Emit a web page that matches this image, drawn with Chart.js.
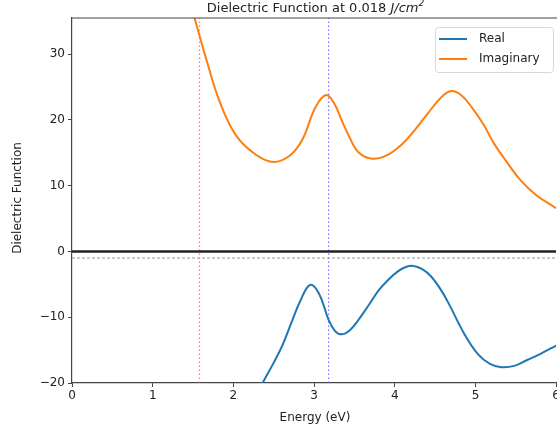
<!DOCTYPE html>
<html>
<head>
<meta charset="utf-8">
<script src="https://cdn.jsdelivr.net/npm/chart.js@4/dist/chart.umd.min.js"></script>
<style>
  html, body { margin: 0; padding: 0; background: #fff; overflow: hidden; }
  #wrap { width: 562px; height: 434px; }
</style>
</head>
<body>
<div id="wrap"><canvas id="chart" width="562" height="434"></canvas></div>
<script>
// values
const realEnergy = [2.25, 2.37, 2.5, 2.61, 2.72, 2.83, 2.95, 3.06, 3.18, 3.26, 3.34, 3.44, 3.55, 3.68, 3.8, 3.92, 4.03, 4.13, 4.23, 4.34, 4.45, 4.57, 4.68, 4.86, 5.03, 5.18, 5.32, 5.48, 5.64, 5.8, 6.0];
const realValues = [-22.5, -19.8, -16.9, -14.2, -10.8, -7.5, -5.1, -6.4, -10.4, -12.1, -12.6, -12.0, -10.4, -8.1, -5.9, -4.3, -3.1, -2.4, -2.2, -2.7, -3.8, -5.8, -8.2, -12.5, -15.6, -17.1, -17.6, -17.4, -16.5, -15.6, -14.3];

const imagEnergy = [1.45, 1.53, 1.66, 1.83, 2.03, 2.28, 2.5, 2.7, 2.85, 3.02, 3.15, 3.25, 3.34, 3.43, 3.55, 3.72, 3.9, 4.08, 4.25, 4.41, 4.58, 4.7, 4.82, 4.95, 5.1, 5.23, 5.4, 5.56, 5.75, 5.97, 6.0];
const imagValues = [38.5, 35.0, 29.4, 22.8, 17.7, 14.7, 13.6, 14.6, 16.9, 22.0, 23.8, 22.5, 20.0, 17.6, 15.1, 14.1, 14.6, 16.2, 18.5, 21.0, 23.5, 24.4, 23.8, 22.0, 19.3, 16.4, 13.4, 10.8, 8.6, 6.8, 6.6];

const redLineE = 1.58;   // red dotted marker
const blueLineE = 3.18;  // blue dotted marker
const zeroLevel = 0;
const dashedLevel = -1;

const xTicks = [0, 1, 2, 3, 4, 5, 6];
const yTicks = [-20, -10, 0, 10, 20, 30];
const xRange = [0, 6];
const yRange = [-20, 35.5];

const FONT = "'DejaVu Sans', sans-serif";

function pts(xs, ys) {
  return xs.map((x, i) => ({ x: x, y: ys[i] }));
}

// title with the italic units, axis labels, top spine and boxed legend
const decorations = {
  id: "decorations",
  afterDraw(chart) {
    const ctx = chart.ctx;
    const a = chart.chartArea;
    ctx.save();

    // top spine
    ctx.strokeStyle = "#444";
    ctx.lineWidth = 1.2;
    ctx.beginPath();
    ctx.moveTo(a.left, a.top);
    ctx.lineTo(a.right + 5, a.top);
    ctx.stroke();

    // title
    ctx.fillStyle = "#222";
    ctx.textBaseline = "alphabetic";
    const part1 = "Dielectric Function at 0.018 ";
    ctx.font = "13px " + FONT;
    const w1 = ctx.measureText(part1).width;
    ctx.font = "italic 13px " + FONT;
    const w2 = ctx.measureText("J/cm").width;
    ctx.font = "italic 9px " + FONT;
    const w3 = ctx.measureText("2").width;
    let tx = (a.left + 559) / 2 - (w1 + w2 + w3) / 2;
    ctx.font = "13px " + FONT;
    ctx.fillText(part1, tx, 12);
    ctx.font = "italic 13px " + FONT;
    ctx.fillText("J/cm", tx + w1, 12);
    ctx.font = "italic 9px " + FONT;
    ctx.fillText("2", tx + w1 + w2, 6);

    // axis labels
    ctx.font = "12px " + FONT;
    ctx.textAlign = "center";
    ctx.textBaseline = "middle";
    ctx.fillText("Energy (eV)", 315, 418);
    ctx.translate(18, 198);
    ctx.rotate(-Math.PI / 2);
    ctx.fillText("Dielectric Function", 0, 0);
    ctx.setTransform(1, 0, 0, 1, 0, 0);

    // legend
    const lx = 435, ly = 27, lw = 118, lh = 45;
    ctx.fillStyle = "rgba(255,255,255,0.85)";
    ctx.strokeStyle = "#d8d8d8";
    ctx.lineWidth = 1;
    ctx.beginPath();
    ctx.roundRect(lx + 0.5, ly + 0.5, lw, lh, 3);
    ctx.fill();
    ctx.stroke();
    const items = [["Real", "#1f77b4"], ["Imaginary", "#ff7f0e"]];
    ctx.textAlign = "left";
    ctx.font = "12px " + FONT;
    items.forEach((it, i) => {
      const yy = ly + 12 + i * 20;
      ctx.strokeStyle = it[1];
      ctx.lineWidth = 2;
      ctx.beginPath();
      ctx.moveTo(lx + 4, yy);
      ctx.lineTo(lx + 32, yy);
      ctx.stroke();
      ctx.fillStyle = "#222";
      ctx.fillText(it[0], lx + 44, yy);
    });
    ctx.restore();
  }
};

new Chart(document.getElementById("chart"), {
  type: "line",
  data: {
    datasets: [
      {
        label: "Real",
        data: pts(realEnergy, realValues),
        borderColor: "#1f77b4",
        borderWidth: 2,
        pointRadius: 0,
        tension: 0.4,
      },
      {
        label: "Imaginary",
        data: pts(imagEnergy, imagValues),
        borderColor: "#ff7f0e",
        borderWidth: 2,
        pointRadius: 0,
        tension: 0.4,
      },
      {
        label: "zero",
        data: pts(xRange, [zeroLevel, zeroLevel]),
        borderColor: "#222",
        borderWidth: 2.4,
        pointRadius: 0,
      },
      {
        label: "offset",
        data: pts(xRange, [dashedLevel, dashedLevel]),
        borderColor: "#999",
        borderWidth: 1,
        borderDash: [3, 2],
        pointRadius: 0,
      },
      {
        label: "red",
        data: pts([redLineE, redLineE], yRange),
        borderColor: "rgba(255,80,80,0.75)",
        borderWidth: 1.3,
        borderDash: [1.5, 2.5],
        pointRadius: 0,
      },
      {
        label: "blue",
        data: pts([blueLineE, blueLineE], yRange),
        borderColor: "rgba(80,80,255,0.75)",
        borderWidth: 1.3,
        borderDash: [1.5, 2.5],
        pointRadius: 0,
      },
    ],
  },
  options: {
    responsive: false,
    animation: false,
    layout: { padding: { top: 18, right: 0, left: 0, bottom: 0 } },
    plugins: {
      legend: { display: false },
      title: { display: false },
      tooltip: { enabled: false },
    },
    scales: {
      x: {
        type: "linear",
        min: xRange[0],
        max: xRange[1],
        afterBuildTicks: (s) => { s.ticks = xTicks.map((v) => ({ value: v })); },
        afterFit: (s) => { s.height = 51; },
        grid: { drawOnChartArea: false, tickLength: 4, color: "#444", tickColor: "#444" },
        border: { color: "#444", width: 1.2 },
        ticks: { color: "#222", font: { family: FONT, size: 12 }, padding: 2, maxRotation: 0 },
      },
      y: {
        min: yRange[0],
        max: yRange[1],
        afterBuildTicks: (s) => { s.ticks = yTicks.map((v) => ({ value: v })); },
        afterFit: (s) => { s.width = 72; },
        grid: { drawOnChartArea: false, tickLength: 4, color: "#444", tickColor: "#444" },
        border: { color: "#444", width: 1.2 },
        ticks: {
          color: "#222",
          font: { family: FONT, size: 12 },
          padding: 3,
          callback: (v) => String(v).replace("-", "\u2212"),
        },
      },
    },
  },
  plugins: [decorations],
});
</script>
</body>
</html>
